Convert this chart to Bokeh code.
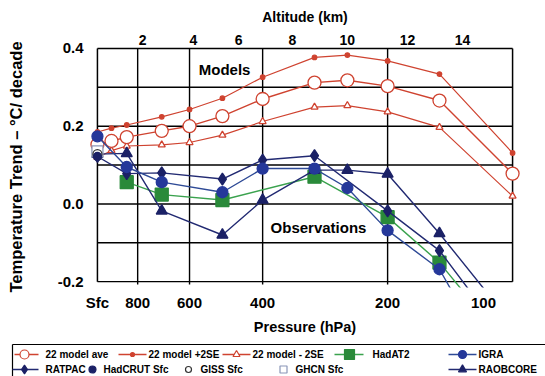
import math
from bokeh.plotting import figure
from bokeh.layouts import column
from bokeh.models import Range1d, FixedTicker, LogAxis, Label, Title, PrintfTickFormatter
from bokeh.core.properties import value
from bokeh.embed import file_html
from bokeh.resources import INLINE

FONT = "Liberation Sans"

# ---------------- data ----------------
model_p = [1000, 925, 850, 700, 600, 500, 400, 300, 250, 200, 150, 100]
model_ave = [0.153, 0.162, 0.172, 0.188, 0.200, 0.226, 0.270, 0.312, 0.318, 0.303, 0.266, 0.078]
model_plus_2se = [0.185, 0.195, 0.203, 0.224, 0.243, 0.272, 0.326, 0.377, 0.383, 0.368, 0.334, 0.131]
model_minus_2se = [0.120, 0.137, 0.149, 0.152, 0.158, 0.177, 0.212, 0.249, 0.253, 0.237, 0.197, 0.020]

igra_p = [1000, 850, 700, 500, 400, 300, 250, 200, 150, 100]
igra = [0.174, 0.095, 0.056, 0.030, 0.091, 0.091, 0.041, -0.068, -0.168, -0.50]

ratpac_p = [1000, 850, 700, 500, 400, 300, 200, 150, 100]
ratpac = [0.122, 0.078, 0.080, 0.064, 0.113, 0.124, -0.018, -0.120, -0.37]

raobcore_p = [1000, 850, 700, 500, 400, 300, 250, 200, 150, 100]
raobcore = [0.128, 0.130, -0.018, -0.080, 0.010, 0.087, 0.087, 0.077, -0.076, -0.31]

hadat2_p = [850, 700, 500, 300, 200, 150, 100]
hadat2 = [0.056, 0.024, 0.010, 0.070, -0.034, -0.151, -0.38]

sfc_p = [1000]
hadcrut_sfc = [0.122]
giss_sfc = [0.128]
ghcn_sfc = [0.135]

pressure_ticks = [1000.0, 800.0, 600.0, 400.0, 200.0, 117.5]
pressure_labels = ["Sfc", "800", "600", "400", "200", "100"]
altitude_tick_p = [778.0, 587.0, 457.0, 339.0, 250.0, 179.0, 132.0]
altitude_labels = ["2", "4", "6", "8", "10", "12", "14"]
trend_ticks = [-0.2, 0.0, 0.2, 0.4]
grid_p_outer = [1000, 100]
grid_p_inner = [800, 600, 400, 200]
grid_t = [0.4, 0.3, 0.2, 0.1, 0.0, -0.1, -0.2]

# ---------------- styles ----------------
RED = "#cf4330"
BLUE = "#25389a"
BLUE_L = "#2e4a96"
NAVY = "#1b2166"
NAVY_L = "#222a72"
GREEN = "#2a8a3a"
GREEN_L = "#3aa24e"

p = figure(width=545, height=338, x_axis_type="log", title=None,
           x_range=Range1d(1045, 95.7), y_range=Range1d(-0.215, 0.405),
           output_backend="svg", toolbar_location=None,
           min_border_left=89, min_border_right=25, min_border_top=46, min_border_bottom=44,
           outline_line_color=None)
p.xgrid.visible = False
p.ygrid.visible = False

# frame and grid
p.segment(x0=grid_p_outer, y0=[-0.2] * 2, x1=grid_p_outer, y1=[0.4] * 2,
          line_color="black", line_width=1.5)
p.segment(x0=grid_p_inner, y0=[-0.2075] * 4, x1=grid_p_inner, y1=[0.4] * 4,
          line_color="black", line_width=1.4)
p.segment(x0=[1000] * len(grid_t), y0=grid_t, x1=[100] * len(grid_t), y1=grid_t,
          line_color="black", line_width=1.4)


def draw(px, py, line_color, marker, size, fill, mline, lw=1.4, draw_line=True):
    if draw_line:
        p.line(px, py, line_color=line_color, line_width=lw)
    p.scatter(px, py, marker=marker, size=size, fill_color=fill, line_color=mline, line_width=1.3)


draw(model_p, model_plus_2se, RED, "circle", 4.5, RED, RED, lw=1.2)
draw(model_p, model_minus_2se, RED, "triangle", 7, "white", RED, lw=1.2)
draw(model_p, model_ave, RED, "circle", 13, "white", RED, lw=1.4)

draw(hadat2_p, hadat2, GREEN_L, "square", 13, GREEN, GREEN)
draw(raobcore_p, raobcore, NAVY_L, "triangle", 11, NAVY, NAVY)
draw(ratpac_p, ratpac, NAVY_L, "diamond", 12, NAVY, NAVY)
draw(igra_p, igra, BLUE_L, "circle", 11, BLUE, BLUE)

draw(sfc_p, ghcn_sfc, None, "square", 11, "white", "#8a96b8", draw_line=False)
draw(sfc_p, giss_sfc, None, "circle", 9, "white", "#333333", draw_line=False)
draw(sfc_p, hadcrut_sfc, None, "circle", 8, NAVY, NAVY, draw_line=False)


# axes
def style_axis(ax, size):
    ax.major_label_text_font = FONT
    ax.major_label_text_font_style = "bold"
    ax.major_label_text_font_size = size
    ax.major_label_text_color = "black"
    ax.major_tick_line_color = None
    ax.minor_tick_line_color = None
    ax.axis_line_color = None


xa = p.xaxis[0]
xa.ticker = FixedTicker(ticks=pressure_ticks)
xa.major_label_overrides = dict(zip(pressure_ticks, pressure_labels))
style_axis(xa, "15px")
xa.major_label_standoff = 0

ya = p.yaxis[0]
ya.ticker = FixedTicker(ticks=trend_ticks)
ya.formatter = PrintfTickFormatter(format="%.1f")
style_axis(ya, "15px")
ya.major_label_standoff = 0
ya.axis_label = "Temperature Trend \u2013 \u00b0C/ decade"
ya.axis_label_text_font = FONT
ya.axis_label_text_font_style = "bold"
ya.axis_label_text_font_size = "16.5px"
ya.axis_label_text_color = "black"
ya.axis_label_standoff = 30

top = LogAxis(ticker=FixedTicker(ticks=altitude_tick_p),
              major_label_overrides=dict(zip(altitude_tick_p, altitude_labels)))
style_axis(top, "14px")
top.major_label_standoff = -4
p.add_layout(top, "above")

p.add_layout(Title(text="Altitude (km)", align="center", offset=-13, standoff=13,
                   text_font=FONT, text_font_style="bold", text_font_size="14px",
                   text_color="black"), "above")
p.add_layout(Title(text="Pressure (hPa)", align="center", offset=-13, standoff=7,
                   text_font=FONT, text_font_style="bold", text_font_size="14.5px",
                   text_color="black"), "below")


def lab(x, y, text, size):
    p.add_layout(Label(x=x, y=y, text=text, text_align="center", text_baseline="middle",
                       text_font=FONT, text_font_style="bold", text_font_size=size,
                       text_color="black"))


lab(494, 0.345, "Models", "15px")
lab(293.4, -0.06, "Observations", "15px")

# ---------------- legend panel ----------------
leg = figure(width=545, height=38, x_range=Range1d(0, 545), y_range=Range1d(38, 0),
             output_backend="svg", toolbar_location=None, min_border=0, title=None,
             outline_line_color=None, x_axis_location=None, y_axis_location=None)
leg.frame_align = False
leg.grid.visible = False
leg.segment(x0=[12, 12], y0=[6, 6], x1=[545, 12], y1=[6, 38], line_color="black", line_width=1.2)

R1, R2 = 16, 31
entries = [
    # label, line (x0,x1) or None, marker x, text x, row, marker, size, fill, edge, line color
    ("22 model ave", (14, 38), 24, 45, R1, "circle", 9, "white", RED, RED),
    ("22 model +2SE", (118, 146), 132, 148, R1, "circle", 4, RED, RED, RED),
    ("22 model - 2SE", (222, 250), 236, 252, R1, "triangle", 7, "white", RED, RED),
    ("HadAT2", (334, 363), 349, 372, R1, "square", 10, GREEN, GREEN, GREEN_L),
    ("IGRA", (448, 476), 462, 478, R1, "circle", 8, BLUE, BLUE, BLUE_L),
    ("RATPAC", (12, 38), 24, 45, R2, "diamond", 9, NAVY, NAVY, NAVY_L),
    ("HadCRUT Sfc", None, 92, 103, R2, "circle", 7, NAVY, NAVY, None),
    ("GISS Sfc", None, 188, 200, R2, "circle", 6, "white", "#333333", None),
    ("GHCN Sfc", None, 283, 295, R2, "square", 7, "white", "#8a96b8", None),
    ("RAOBCORE", (448, 476), 462, 478, R2, "triangle", 8, NAVY, NAVY, NAVY_L),
]
for (text, ln, mx, tx, ry, mk, sz, fill, edge, lc) in entries:
    if ln is not None:
        leg.line([ln[0], ln[1]], [ry, ry], line_color=lc, line_width=1.4)
    leg.scatter([mx], [ry], marker=mk, size=sz, fill_color=fill, line_color=edge, line_width=1.2)
    leg.text([tx], [ry], text=[text], text_font=value(FONT), text_font_style="bold",
             text_font_size="10px", text_baseline="middle", text_align="left", text_color="black")

layout = column(p, leg)
open("out.html", "w").write(file_html(layout, INLINE))
